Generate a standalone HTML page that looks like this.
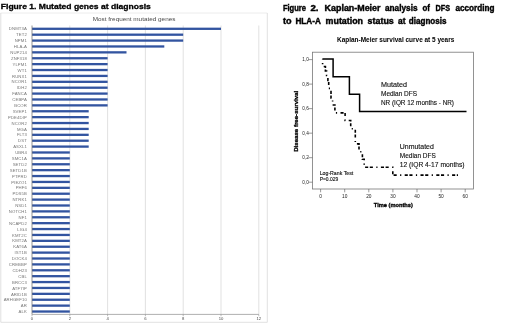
<!DOCTYPE html><html><head><meta charset="utf-8"><style>html,body{margin:0;padding:0;background:#fff;width:520px;height:332px;overflow:hidden}svg{display:block;filter:blur(0.3px)}text{font-family:"Liberation Sans",sans-serif}</style></head><body>
<svg width="520" height="332" viewBox="0 0 520 332">
<rect width="520" height="332" fill="#fff"/>
<text x="0.8" y="9.1" font-size="7.7" font-weight="bold" fill="#000" stroke="#000" stroke-width="0.3" textLength="150" lengthAdjust="spacingAndGlyphs">Figure 1. Mutated genes at diagnosis</text>
<line x1="0.5" y1="13" x2="267.3" y2="13" stroke="#ececec" stroke-width="1"/><path d="M0.8,13 V322.3 H267.3 V13" fill="none" stroke="#dedede" stroke-width="0.9"/>
<text x="92.7" y="20.7" font-size="5.4" fill="#4a4a4a" textLength="82.7" lengthAdjust="spacingAndGlyphs">Most frequent mutated genes</text>
<line x1="69.80" y1="25.5" x2="69.80" y2="314.2" stroke="#d9d9d9" stroke-width="0.8"/>
<line x1="107.60" y1="25.5" x2="107.60" y2="314.2" stroke="#d9d9d9" stroke-width="0.8"/>
<line x1="145.40" y1="25.5" x2="145.40" y2="314.2" stroke="#d9d9d9" stroke-width="0.8"/>
<line x1="183.20" y1="25.5" x2="183.20" y2="314.2" stroke="#d9d9d9" stroke-width="0.8"/>
<line x1="221.00" y1="25.5" x2="221.00" y2="314.2" stroke="#d9d9d9" stroke-width="0.8"/>
<line x1="258.80" y1="25.5" x2="258.80" y2="314.2" stroke="#d9d9d9" stroke-width="0.8"/>
<rect x="32.00" y="27.65" width="189.00" height="2.3" fill="#3254a0"/>
<text x="26.9" y="30.45" font-size="4.25" letter-spacing="0.1" fill="#777" text-anchor="end">DNMT3A</text>
<rect x="32.00" y="33.54" width="151.20" height="2.3" fill="#3254a0"/>
<text x="26.9" y="36.34" font-size="4.25" letter-spacing="0.1" fill="#777" text-anchor="end">TET2</text>
<rect x="32.00" y="39.43" width="151.20" height="2.3" fill="#3254a0"/>
<text x="26.9" y="42.23" font-size="4.25" letter-spacing="0.1" fill="#777" text-anchor="end">NPM1</text>
<rect x="32.00" y="45.32" width="132.30" height="2.3" fill="#3254a0"/>
<text x="26.9" y="48.12" font-size="4.25" letter-spacing="0.1" fill="#777" text-anchor="end">HLA-A</text>
<rect x="32.00" y="51.21" width="94.50" height="2.3" fill="#3254a0"/>
<text x="26.9" y="54.01" font-size="4.25" letter-spacing="0.1" fill="#777" text-anchor="end">NUP214</text>
<rect x="32.00" y="57.10" width="75.60" height="2.3" fill="#3254a0"/>
<text x="26.9" y="59.90" font-size="4.25" letter-spacing="0.1" fill="#777" text-anchor="end">ZNF318</text>
<rect x="32.00" y="62.99" width="75.60" height="2.3" fill="#3254a0"/>
<text x="26.9" y="65.79" font-size="4.25" letter-spacing="0.1" fill="#777" text-anchor="end">YLPM1</text>
<rect x="32.00" y="68.88" width="75.60" height="2.3" fill="#3254a0"/>
<text x="26.9" y="71.68" font-size="4.25" letter-spacing="0.1" fill="#777" text-anchor="end">WT1</text>
<rect x="32.00" y="74.77" width="75.60" height="2.3" fill="#3254a0"/>
<text x="26.9" y="77.57" font-size="4.25" letter-spacing="0.1" fill="#777" text-anchor="end">RUNX1</text>
<rect x="32.00" y="80.66" width="75.60" height="2.3" fill="#3254a0"/>
<text x="26.9" y="83.46" font-size="4.25" letter-spacing="0.1" fill="#777" text-anchor="end">NCOR1</text>
<rect x="32.00" y="86.55" width="75.60" height="2.3" fill="#3254a0"/>
<text x="26.9" y="89.35" font-size="4.25" letter-spacing="0.1" fill="#777" text-anchor="end">IDH2</text>
<rect x="32.00" y="92.44" width="75.60" height="2.3" fill="#3254a0"/>
<text x="26.9" y="95.24" font-size="4.25" letter-spacing="0.1" fill="#777" text-anchor="end">FANCA</text>
<rect x="32.00" y="98.33" width="75.60" height="2.3" fill="#3254a0"/>
<text x="26.9" y="101.13" font-size="4.25" letter-spacing="0.1" fill="#777" text-anchor="end">CEBPA</text>
<rect x="32.00" y="104.22" width="75.60" height="2.3" fill="#3254a0"/>
<text x="26.9" y="107.02" font-size="4.25" letter-spacing="0.1" fill="#777" text-anchor="end">BCOR</text>
<rect x="32.00" y="110.11" width="56.70" height="2.3" fill="#3254a0"/>
<text x="26.9" y="112.91" font-size="4.25" letter-spacing="0.1" fill="#777" text-anchor="end">SVEP1</text>
<rect x="32.00" y="116.00" width="56.70" height="2.3" fill="#3254a0"/>
<text x="26.9" y="118.80" font-size="4.25" letter-spacing="0.1" fill="#777" text-anchor="end">PDE4DIP</text>
<rect x="32.00" y="121.89" width="56.70" height="2.3" fill="#3254a0"/>
<text x="26.9" y="124.69" font-size="4.25" letter-spacing="0.1" fill="#777" text-anchor="end">NCOR2</text>
<rect x="32.00" y="127.78" width="56.70" height="2.3" fill="#3254a0"/>
<text x="26.9" y="130.58" font-size="4.25" letter-spacing="0.1" fill="#777" text-anchor="end">MGA</text>
<rect x="32.00" y="133.67" width="56.70" height="2.3" fill="#3254a0"/>
<text x="26.9" y="136.47" font-size="4.25" letter-spacing="0.1" fill="#777" text-anchor="end">FLT3</text>
<rect x="32.00" y="139.56" width="56.70" height="2.3" fill="#3254a0"/>
<text x="26.9" y="142.36" font-size="4.25" letter-spacing="0.1" fill="#777" text-anchor="end">DST</text>
<rect x="32.00" y="145.45" width="56.70" height="2.3" fill="#3254a0"/>
<text x="26.9" y="148.25" font-size="4.25" letter-spacing="0.1" fill="#777" text-anchor="end">ASXL1</text>
<rect x="32.00" y="151.34" width="37.80" height="2.3" fill="#3254a0"/>
<text x="26.9" y="154.14" font-size="4.25" letter-spacing="0.1" fill="#777" text-anchor="end">UBR4</text>
<rect x="32.00" y="157.23" width="37.80" height="2.3" fill="#3254a0"/>
<text x="26.9" y="160.03" font-size="4.25" letter-spacing="0.1" fill="#777" text-anchor="end">SMC1A</text>
<rect x="32.00" y="163.12" width="37.80" height="2.3" fill="#3254a0"/>
<text x="26.9" y="165.92" font-size="4.25" letter-spacing="0.1" fill="#777" text-anchor="end">SETD2</text>
<rect x="32.00" y="169.01" width="37.80" height="2.3" fill="#3254a0"/>
<text x="26.9" y="171.81" font-size="4.25" letter-spacing="0.1" fill="#777" text-anchor="end">SETD1B</text>
<rect x="32.00" y="174.90" width="37.80" height="2.3" fill="#3254a0"/>
<text x="26.9" y="177.70" font-size="4.25" letter-spacing="0.1" fill="#777" text-anchor="end">PTPRD</text>
<rect x="32.00" y="180.79" width="37.80" height="2.3" fill="#3254a0"/>
<text x="26.9" y="183.59" font-size="4.25" letter-spacing="0.1" fill="#777" text-anchor="end">PIEZO1</text>
<rect x="32.00" y="186.68" width="37.80" height="2.3" fill="#3254a0"/>
<text x="26.9" y="189.48" font-size="4.25" letter-spacing="0.1" fill="#777" text-anchor="end">PHF6</text>
<rect x="32.00" y="192.57" width="37.80" height="2.3" fill="#3254a0"/>
<text x="26.9" y="195.37" font-size="4.25" letter-spacing="0.1" fill="#777" text-anchor="end">PDS5B</text>
<rect x="32.00" y="198.46" width="37.80" height="2.3" fill="#3254a0"/>
<text x="26.9" y="201.26" font-size="4.25" letter-spacing="0.1" fill="#777" text-anchor="end">NTRK1</text>
<rect x="32.00" y="204.35" width="37.80" height="2.3" fill="#3254a0"/>
<text x="26.9" y="207.15" font-size="4.25" letter-spacing="0.1" fill="#777" text-anchor="end">NSD1</text>
<rect x="32.00" y="210.24" width="37.80" height="2.3" fill="#3254a0"/>
<text x="26.9" y="213.04" font-size="4.25" letter-spacing="0.1" fill="#777" text-anchor="end">NOTCH1</text>
<rect x="32.00" y="216.13" width="37.80" height="2.3" fill="#3254a0"/>
<text x="26.9" y="218.93" font-size="4.25" letter-spacing="0.1" fill="#777" text-anchor="end">NF1</text>
<rect x="32.00" y="222.02" width="37.80" height="2.3" fill="#3254a0"/>
<text x="26.9" y="224.82" font-size="4.25" letter-spacing="0.1" fill="#777" text-anchor="end">NCAPD2</text>
<rect x="32.00" y="227.91" width="37.80" height="2.3" fill="#3254a0"/>
<text x="26.9" y="230.71" font-size="4.25" letter-spacing="0.1" fill="#777" text-anchor="end">LIG4</text>
<rect x="32.00" y="233.80" width="37.80" height="2.3" fill="#3254a0"/>
<text x="26.9" y="236.60" font-size="4.25" letter-spacing="0.1" fill="#777" text-anchor="end">KMT2C</text>
<rect x="32.00" y="239.69" width="37.80" height="2.3" fill="#3254a0"/>
<text x="26.9" y="242.49" font-size="4.25" letter-spacing="0.1" fill="#777" text-anchor="end">KMT2A</text>
<rect x="32.00" y="245.58" width="37.80" height="2.3" fill="#3254a0"/>
<text x="26.9" y="248.38" font-size="4.25" letter-spacing="0.1" fill="#777" text-anchor="end">KAT6A</text>
<rect x="32.00" y="251.47" width="37.80" height="2.3" fill="#3254a0"/>
<text x="26.9" y="254.27" font-size="4.25" letter-spacing="0.1" fill="#777" text-anchor="end">IST1B</text>
<rect x="32.00" y="257.36" width="37.80" height="2.3" fill="#3254a0"/>
<text x="26.9" y="260.16" font-size="4.25" letter-spacing="0.1" fill="#777" text-anchor="end">DOCK4</text>
<rect x="32.00" y="263.25" width="37.80" height="2.3" fill="#3254a0"/>
<text x="26.9" y="266.05" font-size="4.25" letter-spacing="0.1" fill="#777" text-anchor="end">CREBBP</text>
<rect x="32.00" y="269.14" width="37.80" height="2.3" fill="#3254a0"/>
<text x="26.9" y="271.94" font-size="4.25" letter-spacing="0.1" fill="#777" text-anchor="end">CDH23</text>
<rect x="32.00" y="275.03" width="37.80" height="2.3" fill="#3254a0"/>
<text x="26.9" y="277.83" font-size="4.25" letter-spacing="0.1" fill="#777" text-anchor="end">CBL</text>
<rect x="32.00" y="280.92" width="37.80" height="2.3" fill="#3254a0"/>
<text x="26.9" y="283.72" font-size="4.25" letter-spacing="0.1" fill="#777" text-anchor="end">BRCC3</text>
<rect x="32.00" y="286.81" width="37.80" height="2.3" fill="#3254a0"/>
<text x="26.9" y="289.61" font-size="4.25" letter-spacing="0.1" fill="#777" text-anchor="end">ATF7IP</text>
<rect x="32.00" y="292.70" width="37.80" height="2.3" fill="#3254a0"/>
<text x="26.9" y="295.50" font-size="4.25" letter-spacing="0.1" fill="#777" text-anchor="end">ARID1B</text>
<rect x="32.00" y="298.59" width="37.80" height="2.3" fill="#3254a0"/>
<text x="26.9" y="301.39" font-size="4.25" letter-spacing="0.1" fill="#777" text-anchor="end">ARHGEF10</text>
<rect x="32.00" y="304.48" width="37.80" height="2.3" fill="#3254a0"/>
<text x="26.9" y="307.28" font-size="4.25" letter-spacing="0.1" fill="#777" text-anchor="end">AR</text>
<rect x="32.00" y="310.37" width="37.80" height="2.3" fill="#3254a0"/>
<text x="26.9" y="313.17" font-size="4.25" letter-spacing="0.1" fill="#777" text-anchor="end">ALK</text>
<line x1="32.00" y1="25.5" x2="32.00" y2="314.4" stroke="#7a7a7a" stroke-width="0.8"/>
<line x1="32.00" y1="314.4" x2="258.80" y2="314.4" stroke="#9a9a9a" stroke-width="0.8"/>
<line x1="32.00" y1="314.4" x2="32.00" y2="316.2" stroke="#8c8c8c" stroke-width="0.6"/>
<text x="32.00" y="319.6" font-size="4.2" fill="#4a4a4a" text-anchor="middle">0</text>
<line x1="69.80" y1="314.4" x2="69.80" y2="316.2" stroke="#8c8c8c" stroke-width="0.6"/>
<text x="69.80" y="319.6" font-size="4.2" fill="#4a4a4a" text-anchor="middle">2</text>
<line x1="107.60" y1="314.4" x2="107.60" y2="316.2" stroke="#8c8c8c" stroke-width="0.6"/>
<text x="107.60" y="319.6" font-size="4.2" fill="#4a4a4a" text-anchor="middle">4</text>
<line x1="145.40" y1="314.4" x2="145.40" y2="316.2" stroke="#8c8c8c" stroke-width="0.6"/>
<text x="145.40" y="319.6" font-size="4.2" fill="#4a4a4a" text-anchor="middle">6</text>
<line x1="183.20" y1="314.4" x2="183.20" y2="316.2" stroke="#8c8c8c" stroke-width="0.6"/>
<text x="183.20" y="319.6" font-size="4.2" fill="#4a4a4a" text-anchor="middle">8</text>
<line x1="221.00" y1="314.4" x2="221.00" y2="316.2" stroke="#8c8c8c" stroke-width="0.6"/>
<text x="221.00" y="319.6" font-size="4.2" fill="#4a4a4a" text-anchor="middle">10</text>
<line x1="258.80" y1="314.4" x2="258.80" y2="316.2" stroke="#8c8c8c" stroke-width="0.6"/>
<text x="258.80" y="319.6" font-size="4.2" fill="#4a4a4a" text-anchor="middle">12</text>
<text x="282.9" y="11.0" font-size="9.0" font-weight="bold" fill="#000" stroke="#000" stroke-width="0.42" textLength="23.10" lengthAdjust="spacingAndGlyphs">Figure</text>
<text x="310.4" y="11.0" font-size="9.0" font-weight="bold" fill="#000" stroke="#000" stroke-width="0.42" textLength="8.10" lengthAdjust="spacingAndGlyphs">2.</text>
<text x="324.6" y="11.0" font-size="9.0" font-weight="bold" fill="#000" stroke="#000" stroke-width="0.42" textLength="55.90" lengthAdjust="spacingAndGlyphs">Kaplan-Meier</text>
<text x="385" y="11.0" font-size="9.0" font-weight="bold" fill="#000" stroke="#000" stroke-width="0.42" textLength="32.50" lengthAdjust="spacingAndGlyphs">analysis</text>
<text x="422.5" y="11.0" font-size="9.0" font-weight="bold" fill="#000" stroke="#000" stroke-width="0.42" textLength="7.50" lengthAdjust="spacingAndGlyphs">of</text>
<text x="435.5" y="11.0" font-size="9.0" font-weight="bold" fill="#000" stroke="#000" stroke-width="0.42" textLength="14.50" lengthAdjust="spacingAndGlyphs">DFS</text>
<text x="455.5" y="11.0" font-size="9.0" font-weight="bold" fill="#000" stroke="#000" stroke-width="0.42" textLength="39.00" lengthAdjust="spacingAndGlyphs">according</text>
<text x="282.9" y="24.0" font-size="9.0" font-weight="bold" fill="#000" stroke="#000" stroke-width="0.42" textLength="8.60" lengthAdjust="spacingAndGlyphs">to</text>
<text x="295.4" y="24.0" font-size="9.0" font-weight="bold" fill="#000" stroke="#000" stroke-width="0.42" textLength="25.40" lengthAdjust="spacingAndGlyphs">HLA-A</text>
<text x="325.6" y="24.0" font-size="9.0" font-weight="bold" fill="#000" stroke="#000" stroke-width="0.42" textLength="37.40" lengthAdjust="spacingAndGlyphs">mutation</text>
<text x="367.6" y="24.0" font-size="9.0" font-weight="bold" fill="#000" stroke="#000" stroke-width="0.42" textLength="26.20" lengthAdjust="spacingAndGlyphs">status</text>
<text x="398" y="24.0" font-size="9.0" font-weight="bold" fill="#000" stroke="#000" stroke-width="0.42" textLength="7.50" lengthAdjust="spacingAndGlyphs">at</text>
<text x="408.8" y="24.0" font-size="9.0" font-weight="bold" fill="#000" stroke="#000" stroke-width="0.42" textLength="37.70" lengthAdjust="spacingAndGlyphs">diagnosis</text>
<text x="337" y="42.2" font-size="6.9" font-weight="bold" fill="#000" stroke="#000" stroke-width="0.02" textLength="117.30" lengthAdjust="spacingAndGlyphs">Kaplan-Meier survival curve at 5 years</text>
<rect x="312.4" y="52.2" width="161.20000000000005" height="136.8" fill="none" stroke="#777" stroke-width="0.8"/>
<line x1="308.4" y1="182.20" x2="312.4" y2="182.20" stroke="#555" stroke-width="0.6"/>
<text x="308.7" y="183.70" font-size="4.6" fill="#222" text-anchor="end">0,0</text>
<line x1="308.4" y1="157.68" x2="312.4" y2="157.68" stroke="#555" stroke-width="0.6"/>
<text x="308.7" y="159.18" font-size="4.6" fill="#222" text-anchor="end">0,2</text>
<line x1="308.4" y1="133.16" x2="312.4" y2="133.16" stroke="#555" stroke-width="0.6"/>
<text x="308.7" y="134.66" font-size="4.6" fill="#222" text-anchor="end">0,4</text>
<line x1="308.4" y1="108.64" x2="312.4" y2="108.64" stroke="#555" stroke-width="0.6"/>
<text x="308.7" y="110.14" font-size="4.6" fill="#222" text-anchor="end">0,6</text>
<line x1="308.4" y1="84.12" x2="312.4" y2="84.12" stroke="#555" stroke-width="0.6"/>
<text x="308.7" y="85.62" font-size="4.6" fill="#222" text-anchor="end">0,8</text>
<line x1="308.4" y1="59.60" x2="312.4" y2="59.60" stroke="#555" stroke-width="0.6"/>
<text x="308.7" y="61.10" font-size="4.6" fill="#222" text-anchor="end">1,0</text>
<line x1="320.60" y1="189.0" x2="320.60" y2="192.3" stroke="#555" stroke-width="0.6"/>
<text x="320.60" y="197.9" font-size="4.8" fill="#222" text-anchor="middle">0</text>
<line x1="344.70" y1="189.0" x2="344.70" y2="192.3" stroke="#555" stroke-width="0.6"/>
<text x="344.70" y="197.9" font-size="4.8" fill="#222" text-anchor="middle">10</text>
<line x1="368.80" y1="189.0" x2="368.80" y2="192.3" stroke="#555" stroke-width="0.6"/>
<text x="368.80" y="197.9" font-size="4.8" fill="#222" text-anchor="middle">20</text>
<line x1="392.90" y1="189.0" x2="392.90" y2="192.3" stroke="#555" stroke-width="0.6"/>
<text x="392.90" y="197.9" font-size="4.8" fill="#222" text-anchor="middle">30</text>
<line x1="417.00" y1="189.0" x2="417.00" y2="192.3" stroke="#555" stroke-width="0.6"/>
<text x="417.00" y="197.9" font-size="4.8" fill="#222" text-anchor="middle">40</text>
<line x1="441.10" y1="189.0" x2="441.10" y2="192.3" stroke="#555" stroke-width="0.6"/>
<text x="441.10" y="197.9" font-size="4.8" fill="#222" text-anchor="middle">50</text>
<line x1="465.20" y1="189.0" x2="465.20" y2="192.3" stroke="#555" stroke-width="0.6"/>
<text x="465.20" y="197.9" font-size="4.8" fill="#222" text-anchor="middle">60</text>
<text x="373.8" y="206.5" font-size="5.8" font-weight="bold" fill="#000" stroke="#000" stroke-width="0.3" textLength="39" lengthAdjust="spacingAndGlyphs">Time (months)</text>
<text transform="translate(298.3,151.8) rotate(-90)" x="0" y="0" font-size="5.8" font-weight="bold" fill="#000" stroke="#000" stroke-width="0.3" textLength="61" lengthAdjust="spacingAndGlyphs">Disease free-survival</text>
<text x="381" y="86.9" font-size="6.4" fill="#111" stroke="#111" stroke-width="0.12" textLength="26" lengthAdjust="spacingAndGlyphs">Mutated</text>
<text x="381" y="96" font-size="6.4" fill="#111" stroke="#111" stroke-width="0.12" textLength="36" lengthAdjust="spacingAndGlyphs">Median DFS</text>
<text x="381" y="105" font-size="6.4" fill="#111" stroke="#111" stroke-width="0.12" textLength="73" lengthAdjust="spacingAndGlyphs">NR (IQR 12 months - NR)</text>
<text x="399.8" y="148.7" font-size="6.4" fill="#111" stroke="#111" stroke-width="0.12" textLength="34" lengthAdjust="spacingAndGlyphs">Unmutated</text>
<text x="399.8" y="157.9" font-size="6.4" fill="#111" stroke="#111" stroke-width="0.12" textLength="36" lengthAdjust="spacingAndGlyphs">Median DFS</text>
<text x="399.8" y="166.9" font-size="6.4" fill="#111" stroke="#111" stroke-width="0.12" textLength="64.8" lengthAdjust="spacingAndGlyphs">12 (IQR 4-17 months)</text>
<text x="319.7" y="174.5" font-size="5.0" fill="#111" stroke="#111" stroke-width="0.12" textLength="33.5" lengthAdjust="spacingAndGlyphs">Log-Rank Test</text>
<text x="319.7" y="180.9" font-size="5.0" fill="#111" stroke="#111" stroke-width="0.12" textLength="18.5" lengthAdjust="spacingAndGlyphs">P=0.029</text>
<path d="M322.4,59.1 H333.1 V76.7 H349.4 V94.3 H359.6 V111.6 H466.5" fill="none" stroke="#000" stroke-width="1.5" stroke-linejoin="miter"/>
<path d="M322.6,59.2 V66.5 H325.4 V71.0 H326.6 V75.5 H327.9 V80.5 H328.7 V88.4 H331.0 V98.0 H332.6 V105.0 H334.9 V112.9 H345.1 V120.5 H350.7 V128.7 H355.3 V143.9 H359.0 V151.8 H362.4 V159.3 H364.2 V167.3 H392.8 V175.1 H458.0" fill="none" stroke="#000" stroke-width="1.6" stroke-dasharray="1.2,3.4,3.1,1.6,3.1,3.4" stroke-dashoffset="12.00"/>
</svg></body></html>
